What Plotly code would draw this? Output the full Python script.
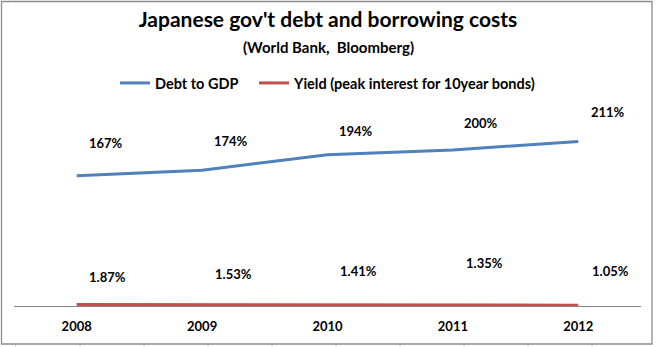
import plotly.graph_objects as go

# Data
years = ["2008", "2009", "2010", "2011", "2012"]
debt_to_gdp = [167, 174, 194, 200, 211]          # percent of GDP
yield_peak = [1.87, 1.53, 1.41, 1.35, 1.05]      # percent

# Label offsets in pixels (dx right, dy up) from each point
debt_offsets = [(29, 33), (29, 29), (28, 24), (28, 27), (30, 29)]
yield_offsets = [(31, 28), (31, 31), (31, 34), (32, 42), (32, 34)]

W, H = 657, 347
M_L, M_R, M_T, M_B = 14, 16, 111, 41
plot_w = W - M_L - M_R
plot_h = H - M_T - M_B

BLUE = "#4F81BD"
RED = "#C0504D"
FONT = "Lato"


def px_x(px):
    return (px - M_L) / plot_w


def px_y(py):
    return (H - M_B - py) / plot_h


fig = go.Figure()
fig.add_trace(go.Scatter(
    x=years, y=debt_to_gdp, mode="lines", name="<b>Debt to GDP</b>",
    line=dict(color=BLUE, width=3), hoverinfo="skip", legend="legend",
))
fig.add_trace(go.Scatter(
    x=years, y=yield_peak, mode="lines",
    name="<b>Yield (peak interest for 10year bonds)</b>",
    line=dict(color=RED, width=3), hoverinfo="skip", legend="legend2",
))

annotations = []
for i, (v, (dx, dy)) in enumerate(zip(debt_to_gdp, debt_offsets)):
    annotations.append(dict(
        x=i, y=v, xref="x", yref="y", text=f"<b>{v}%</b>", showarrow=False,
        xshift=dx, yshift=dy, font=dict(family=FONT, size=13, color="black"),
    ))
for i, (v, (dx, dy)) in enumerate(zip(yield_peak, yield_offsets)):
    annotations.append(dict(
        x=i, y=v, xref="x", yref="y", text=f"<b>{v:.2f}%</b>", showarrow=False,
        xshift=dx, yshift=dy, font=dict(family=FONT, size=13, color="black"),
    ))

# Subtitle
annotations.append(dict(
    x=px_x(328), y=px_y(47), xref="paper", yref="paper",
    text="<b>(World Bank,\u00a0 Bloomberg)</b>", showarrow=False,
    xanchor="center", yanchor="middle",
    font=dict(family=FONT, size=15, color="black"),
))

shapes = [
    # chart border
    dict(type="rect", xref="paper", yref="paper",
         x0=px_x(1.5), x1=px_x(652), y0=px_y(344), y1=px_y(1.5),
         line=dict(color="#8c8c8c", width=1.3), fillcolor="rgba(0,0,0,0)",
         layer="above"),
]
# sheet gridline stubs outside the chart border
for cx in [15.5, 80, 144, 208, 272, 336, 400, 464, 528, 592]:
    shapes.append(dict(type="line", xref="paper", yref="paper",
                       x0=px_x(cx), x1=px_x(cx), y0=px_y(0), y1=px_y(1),
                       line=dict(color="#d4d4d4", width=1)))
    shapes.append(dict(type="line", xref="paper", yref="paper",
                       x0=px_x(cx), x1=px_x(cx), y0=px_y(345), y1=px_y(347),
                       line=dict(color="#d4d4d4", width=1)))

legend_style = dict(
    orientation="h", yref="paper", xref="paper",
    xanchor="left", yanchor="middle",
    font=dict(family=FONT, size=14.5, color="black"),
    bgcolor="rgba(0,0,0,0)", borderwidth=0, itemwidth=30,
)

fig.update_layout(
    width=W, height=H,
    margin=dict(l=M_L, r=M_R, t=M_T, b=M_B, pad=0),
    paper_bgcolor="white", plot_bgcolor="white",
    font=dict(family=FONT, color="black"),
    title=dict(
        text="<b>Japanese gov't debt and borrowing costs</b>",
        x=px_x(328), xanchor="center", xref="paper",
        y=1 - 20 / H, yanchor="middle", yref="container",
        font=dict(family=FONT, size=21, color="black"),
    ),
    showlegend=True,
    legend=dict(x=px_x(115), y=px_y(83), **legend_style),
    legend2=dict(x=px_x(254), y=px_y(83), **legend_style),
    xaxis=dict(
        type="category", range=[-0.5, 4.5],
        showline=True, linecolor="#868686", linewidth=1,
        showgrid=False, zeroline=False, ticks="",
        tickvals=years, ticktext=[f"<b>{y}</b>" for y in years],
        tickfont=dict(family=FONT, size=13, color="black"),
        ticklabelstandoff=8, fixedrange=True,
    ),
    yaxis=dict(
        range=[0, 250], visible=False, showgrid=False, zeroline=False,
        fixedrange=True,
    ),
    annotations=annotations,
    shapes=shapes,
)

fig.write_html("out.html", config={"displayModeBar": False})
